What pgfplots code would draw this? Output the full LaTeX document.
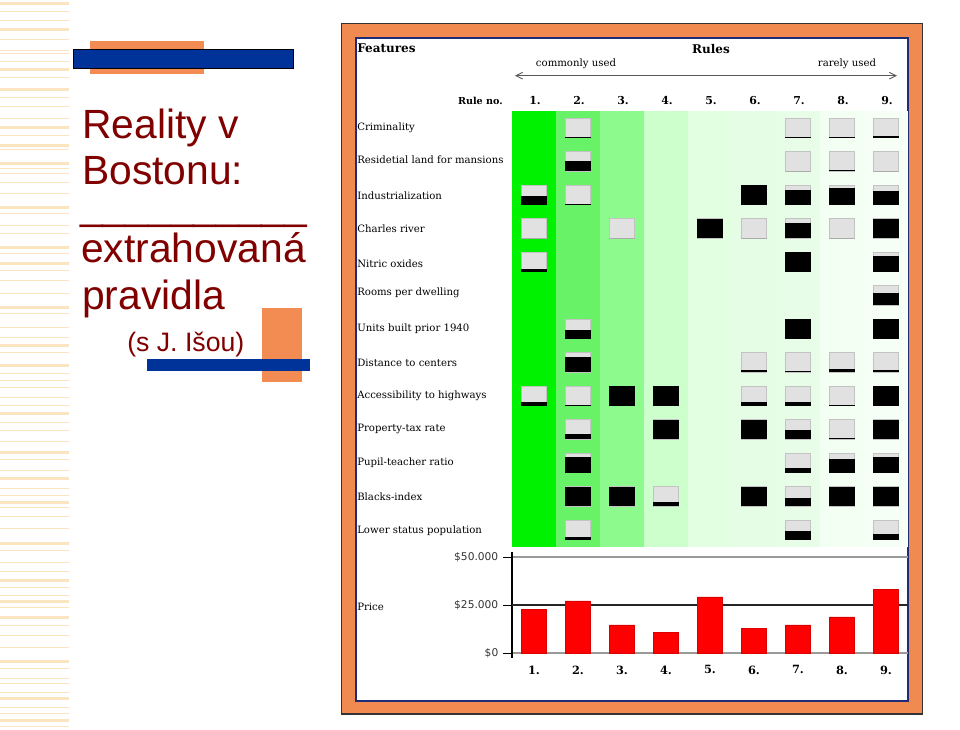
\documentclass[border=0pt]{standalone}
\usepackage{pgfplots}
\pgfplotsset{compat=1.18}
\usepackage{pgfplotstable}
\usepackage{fontspec}
\setmainfont{Liberation Sans}
\newfontfamily\figserif{DejaVu Serif}
\newfontfamily\figsans{DejaVu Sans}
\usetikzlibrary{arrows.meta}

\definecolor{titlered}{RGB}{128,0,0}
\definecolor{deco}{RGB}{243,140,82}
\definecolor{decoblue}{RGB}{0,51,153}
\definecolor{stripe}{RGB}{251,229,192}
\definecolor{frameorange}{RGB}{240,138,80}
\definecolor{framenavy}{RGB}{30,45,120}
\definecolor{boxgray}{RGB}{225,225,225}
\definecolor{boxedge}{RGB}{195,195,195}
\definecolor{gA}{RGB}{0,242,0}
\definecolor{gB}{RGB}{104,242,104}
\definecolor{gC}{RGB}{140,250,140}
\definecolor{gD}{RGB}{204,255,204}
\definecolor{gE}{RGB}{226,255,226}
\definecolor{gF}{RGB}{229,253,229}
\definecolor{gG}{RGB}{232,253,232}
\definecolor{gH}{RGB}{242,255,242}
\definecolor{gI}{RGB}{245,255,245}
\definecolor{barred}{RGB}{255,0,0}

% glyph table: rule (x), feature row (y), black fraction (f)
\pgfplotstableread{
x y f
2 1 0.05
7 1 0.05
8 1 0.05
9 1 0.08
2 2 0.5
7 2 0
8 2 0.05
9 2 0
1 3 0.45
2 3 0.04
6 3 1
7 3 0.76
8 3 0.88
9 3 0.7
1 4 0
3 4 0
5 4 1
6 4 0
7 4 0.76
8 4 0
9 4 1
1 5 0.14
7 5 1
9 5 0.8
9 6 0.62
2 7 0.43
7 7 1
9 7 1
2 8 0.8
6 8 0.1
7 8 0.08
8 8 0.17
9 8 0.1
1 9 0.18
2 9 0.04
3 9 1
4 9 1
6 9 0.17
7 9 0.17
8 9 0.05
9 9 1
2 10 0.29
4 10 1
6 10 1
7 10 0.45
8 10 0.04
9 10 1
2 11 0.82
7 11 0.24
8 11 0.72
9 11 0.83
2 12 1
3 12 1
4 12 0.21
6 12 1
7 12 0.41
8 12 1
9 12 1
2 13 0.14
7 13 0.45
9 13 0.31
}\glyphs

\pgfplotstableread{
rule price
1 22800
2 27100
3 14600
4 10600
5 29200
6 12700
7 14600
8 18750
9 33200
}\prices

\pgfdeclareplotmark{glyph}{%
  \pgfpathrectanglecorners{\pgfpoint{-9.4pt}{-7.3pt}}{\pgfpoint{9.4pt}{7.3pt}}%
  \pgfsetfillcolor{boxgray}\pgfsetstrokecolor{boxedge}\pgfsetlinewidth{0.6pt}%
  \pgfusepath{fill,stroke}%
  \pgfmathsetmacro\glyphtop{-7.3+14.6*\glyphf}%
  \pgfpathrectanglecorners{\pgfpoint{-9.4pt}{-7.3pt}}{\pgfpoint{9.4pt}{\glyphtop pt}}%
  \pgfsetfillcolor{black}%
  \pgfusepath{fill}%
}

\begin{document}
\begin{tikzpicture}[x=0.75pt,y=0.75pt]
\useasboundingbox (0,0) rectangle (960,730);
\fill[white] (0,0) rectangle (960,730);
% left stripes
\foreach \yy/\hh in {2/3,11/1.5,20/1.5,28/3,39/1.5,50/1.5,53/1.5,61/1.5,68/3,77/1.5,88/3,97/1.5,106/1.5,118/1.5,126/3,135/1.5,144/3,149/1.5,162/3,168/1.5,173/1.5,182/1.5,193/1.5,
  206/3,213/1.5,225/1.5,233/1.5,246/3,253/1.5,262/3,270/1.5,280/1.5,293/1.5,306/3,313/1.5,327/1.5,337/1.5,344/3,352/1.5,364/3,373/1.5,380/1.5,387/1.5,397/1.5,
  405/1.5,412/3,422/1.5,430/1.5,441/1.5,451/3,459/1.5,470/1.5,477/3,488/1.5,495/1.5,
  501/3,507/1.5,516/1.5,528/1.5,542/3,550/1.5,562/1.5,571/1.5,579/3,587/1.5,595/1.5,600/3,607/1.5,616/3,625/1.5,635/1.5,647/1.5,660/3,668/1.5,678/1.5,683/1.5,692/1.5,697/3,707/1.5,713/1.5,719/3,726/1.5}
  {\fill[stripe] (0,730-\yy) rectangle (69,730-\yy-\hh);}
% decorations
\fill[deco] (90,730-41) rectangle (204,730-74);
\filldraw[fill=decoblue, draw=black, line width=0.6pt] (73,730-49) rectangle (293,730-68);
\fill[deco] (262,730-308) rectangle (302,730-382);
\fill[decoblue] (147,730-359) rectangle (310,730-371);
% title
\begin{scope}[every node/.style={inner sep=0pt, text=titlered, anchor=base west}]
\node[font=\fontsize{30.6}{36}\selectfont] at (82,730-139) {Reality v};
\node[font=\fontsize{30.6}{36}\selectfont] at (82,730-185) {Bostonu:};
\node[font=\fontsize{30.6}{36}\selectfont] at (80,730-220) {\textunderscore\textunderscore\textunderscore\textunderscore\textunderscore\textunderscore\textunderscore\textunderscore\textunderscore\textunderscore};
\node[font=\fontsize{30.6}{36}\selectfont] at (81,730-263) {extrahovaná};
\node[font=\fontsize{30.6}{36}\selectfont] at (82,730-310) {pravidla};
\node[font=\fontsize{20}{24}\selectfont] at (127,730-351.5) {(s J. Išou)};
\end{scope}
% frame
\filldraw[fill=frameorange, draw=black!80, line width=0.9pt] (341.5,730-23.5) rectangle (922.5,730-714);
\filldraw[fill=white, draw=framenavy, line width=1.5pt] (355.5,730-38) rectangle (908,730-701);
% header texts
\node[anchor=west, inner sep=0pt, font=\figserif\bfseries\fontsize{9}{10}\selectfont] at (357,730-48) {Features};
\node[inner sep=0pt, font=\figserif\bfseries\fontsize{9}{10}\selectfont] at (711,730-49) {Rules};
\node[inner sep=0pt, font=\figserif\fontsize{7.6}{9}\selectfont] at (576,730-64) {commonly used};
\node[inner sep=0pt, font=\figserif\fontsize{7.6}{9}\selectfont] at (847,730-64) {rarely used};
\draw[black!65, line width=0.7pt, {Straight Barb[length=5pt,width=5pt]}-{Straight Barb[length=5pt,width=5pt]}] (515,730-75.7) -- (897,730-75.7);
\node[anchor=east, inner sep=0pt, font=\figserif\bfseries\fontsize{7.2}{8}\selectfont] at (503,730-101) {Rule no.};
\foreach \i in {1,...,9} {\node[inner sep=0pt, font=\figserif\bfseries\fontsize{8.2}{9}\selectfont] at (535+44*\i-44,730-101) {\i.};}
% feature labels
\foreach \t/\yy in {Criminality/128,Residetial land for mansions/160,Industrialization/196,Charles river/229,Nitric oxides/264,Rooms per dwelling/293,Units built prior 1940/329,Distance to centers/363,Accessibility to highways/396,Property-tax rate/429,Pupil-teacher ratio/463,Blacks-index/497,Lower status population/531}
  {\node[anchor=west, inner sep=0pt, font=\figserif\fontsize{7.6}{9}\selectfont] at (357,730-\yy) {\t};}
\node[anchor=west, inner sep=0pt, font=\figserif\fontsize{7.6}{9}\selectfont] at (357,730-607) {Price};

% glyph matrix
\begin{axis}[at={(384pt,137.4375pt)}, anchor=south west, scale only axis,
  width=297pt, height=326.625pt,
  xmin=0.5, xmax=9.5, ymin=0.5, ymax=13.5, y dir=reverse, hide axis]
\addplot[draw=none, fill=gA] coordinates {(0.5,0.5) (1.5,0.5) (1.5,13.5) (0.5,13.5)} -- cycle;
\addplot[draw=none, fill=gB] coordinates {(1.5,0.5) (2.5,0.5) (2.5,13.5) (1.5,13.5)} -- cycle;
\addplot[draw=none, fill=gC] coordinates {(2.5,0.5) (3.5,0.5) (3.5,13.5) (2.5,13.5)} -- cycle;
\addplot[draw=none, fill=gD] coordinates {(3.5,0.5) (4.5,0.5) (4.5,13.5) (3.5,13.5)} -- cycle;
\addplot[draw=none, fill=gE] coordinates {(4.5,0.5) (5.5,0.5) (5.5,13.5) (4.5,13.5)} -- cycle;
\addplot[draw=none, fill=gF] coordinates {(5.5,0.5) (6.5,0.5) (6.5,13.5) (5.5,13.5)} -- cycle;
\addplot[draw=none, fill=gG] coordinates {(6.5,0.5) (7.5,0.5) (7.5,13.5) (6.5,13.5)} -- cycle;
\addplot[draw=none, fill=gH] coordinates {(7.5,0.5) (8.5,0.5) (8.5,13.5) (7.5,13.5)} -- cycle;
\addplot[draw=none, fill=gI] coordinates {(8.5,0.5) (9.5,0.5) (9.5,13.5) (8.5,13.5)} -- cycle;
\addplot[scatter, only marks, mark=glyph, point meta=\thisrow{f},
  visualization depends on={\thisrow{f} \as \glyphf}]
  table[x=x, y=y] {\glyphs};
\end{axis}

% price bars
\begin{axis}[at={(384pt,54pt)}, anchor=south west, scale only axis,
  width=297pt, height=79.5pt,
  xmin=0.5, xmax=9.5, ymin=-2604, ymax=52604,
  scaled y ticks=false,
  axis lines*=left, x axis line style={draw=none},
  y axis line style={black, line width=0.8pt},
  ytick={0,50000}, yticklabels={\$0,\$50.000},
  extra y ticks={25000}, extra y tick labels={\$25.000},
  extra y tick style={major grid style={black!85, line width=0.8pt}},
  ymajorgrids, major grid style={black!40, line width=0.8pt},
  tick align=outside, major tick length=6.75pt,
  ytick style={black, line width=0.6pt},
  xtick={1,...,9}, xticklabels={1.,2.,3.,4.,5.,6.,7.,8.,9.},
  xtick style={draw=none},
  xticklabel style={font=\figserif\bfseries\fontsize{8.5}{10}\selectfont, yshift=4.5pt},
  yticklabel style={font=\figsans\fontsize{8}{9}\selectfont, text=black!80}]
\addplot[ybar, bar width=0.57, fill=barred, draw=red!85!black, line width=0.3pt] table[x=rule, y=price] {\prices};
\end{axis}
\end{tikzpicture}
\end{document}
